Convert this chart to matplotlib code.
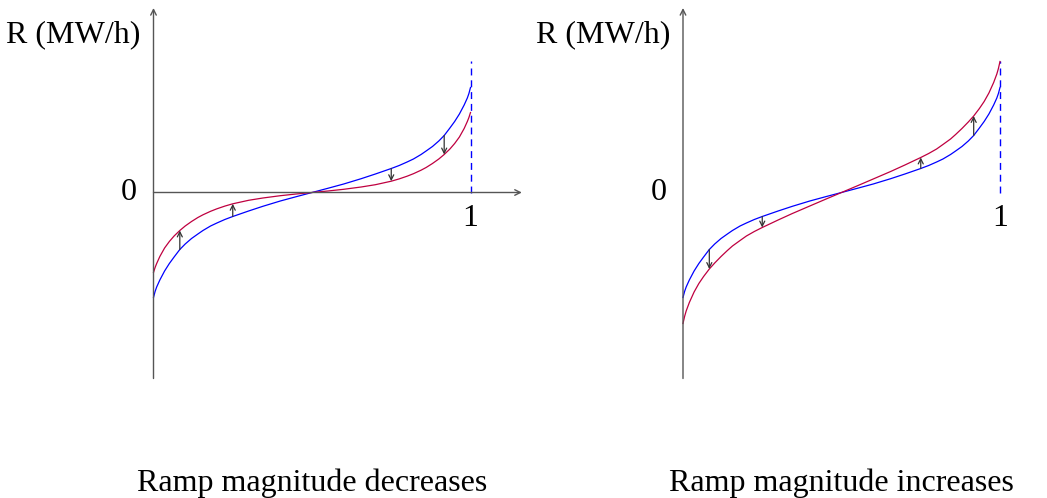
import matplotlib.pyplot as plt

plt.rcParams['font.family'] = ['Liberation Serif', 'DejaVu Serif']

# ramp position (0..1) and ramp rate R (arbitrary units)
x = [0, 0.005, 0.01, 0.02, 0.035, 0.05, 0.065, 0.083, 0.1, 0.12, 0.14, 0.156, 0.18, 0.2,
     0.225, 0.25, 0.3, 0.345, 0.4, 0.45, 0.5,
     0.55, 0.6, 0.655, 0.7, 0.75, 0.775, 0.8, 0.82, 0.844, 0.86, 0.88, 0.9, 0.917, 0.935,
     0.95, 0.965, 0.98, 0.99, 0.995, 1]
blue = [-105, -99, -94.5, -87.5, -78.5, -71, -64.5, -57, -51.5, -46, -41.5, -38, -33.5, -30.5,
        -27, -24, -18.5, -13.8, -8.5, -4.2, 0,
        4.2, 8.5, 13.8, 18.5, 24, 27, 30.5, 33.5, 38, 41.5, 46, 51.5, 57, 64.5,
        71, 78.5, 87.5, 94.5, 99, 105]
red_dec = [-80, -75, -71, -64, -55.5, -49, -43.5, -38, -33.5, -29, -25, -22.3, -18.8, -16.3,
           -13.6, -11.3, -7.8, -5.5, -3.2, -1.5, 0,
           1.5, 3.2, 5.5, 7.8, 11.3, 13.6, 16.3, 18.8, 22.3, 25, 29, 33.5, 38, 43.5,
           49, 55.5, 64, 71, 75, 80]
red_inc = [-131, -124, -118.5, -110, -99.5, -91, -84, -76.5, -70.5, -64, -58, -53.5, -48, -43.5,
           -39, -35, -27.5, -21, -13.5, -6.7, 0,
           6.7, 13.5, 21, 27.5, 35, 39, 43.5, 48, 53.5, 58, 64, 70.5, 76.5, 84,
           91, 99.5, 110, 118.5, 124, 131]
arrow_x = [0.083, 0.25, 0.75, 0.917]
dash_top = 132
titles = ['Ramp magnitude decreases', 'Ramp magnitude increases']
ylabel = 'R (MW/h)'

BLUE = '#0000ff'
RED = '#bf0040'
AX = '#555555'

fig = plt.figure(figsize=(10.47, 4.98), dpi=100)
W, H = 1047.0, 498.0
sx = 317.0   # pixels per unit of x
y0 = 192.5   # pixel row of R = 0

panels = [(0, 530, 153.5, red_dec), (530, 1047, 683.0, red_inc)]
for (p0, p1, ox, red), title in zip(panels, titles):
    ax = fig.add_axes([p0 / W, 0, (p1 - p0) / W, 1])
    ax.set_xlim((p0 - ox) / sx, (p1 - ox) / sx)
    ax.set_ylim(-(H - y0), y0)
    ax.axis('off')

    # axes with arrow tips
    ax.annotate('', xy=(0, 184.5), xytext=(0, -186),
                arrowprops=dict(arrowstyle='->', color=AX, lw=1.0, shrinkA=0, shrinkB=0))
    ax.annotate('', xy=(1.162, 0), xytext=(0, 0),
                arrowprops=dict(arrowstyle='->', color=AX, lw=1.0, shrinkA=0, shrinkB=0))

    ax.plot([1, 1], [0, dash_top], color=BLUE, lw=1.0, ls=(0, (5, 3.5)))
    ax.plot(x, blue, color=BLUE, lw=0.9)
    ax.plot(x, red, color=RED, lw=0.9)

    for xa in arrow_x:
        i = x.index(xa)
        ax.annotate('', xy=(xa, red[i]), xytext=(xa, blue[i]),
                    arrowprops=dict(arrowstyle='->', color='#333333', lw=0.9,
                                    shrinkA=0, shrinkB=0, mutation_scale=9))

    ax.text(-0.077, 0, '0', ha='center', va='center', fontsize=23)
    ax.text(1, -25.5, '1', ha='center', va='center', fontsize=23)
    ax.text(-0.04, 158, ylabel, ha='right', va='center', fontsize=23)
    ax.text(0.5, -291, title, ha='center', va='center', fontsize=23)

fig.savefig('out.png', dpi=100)
